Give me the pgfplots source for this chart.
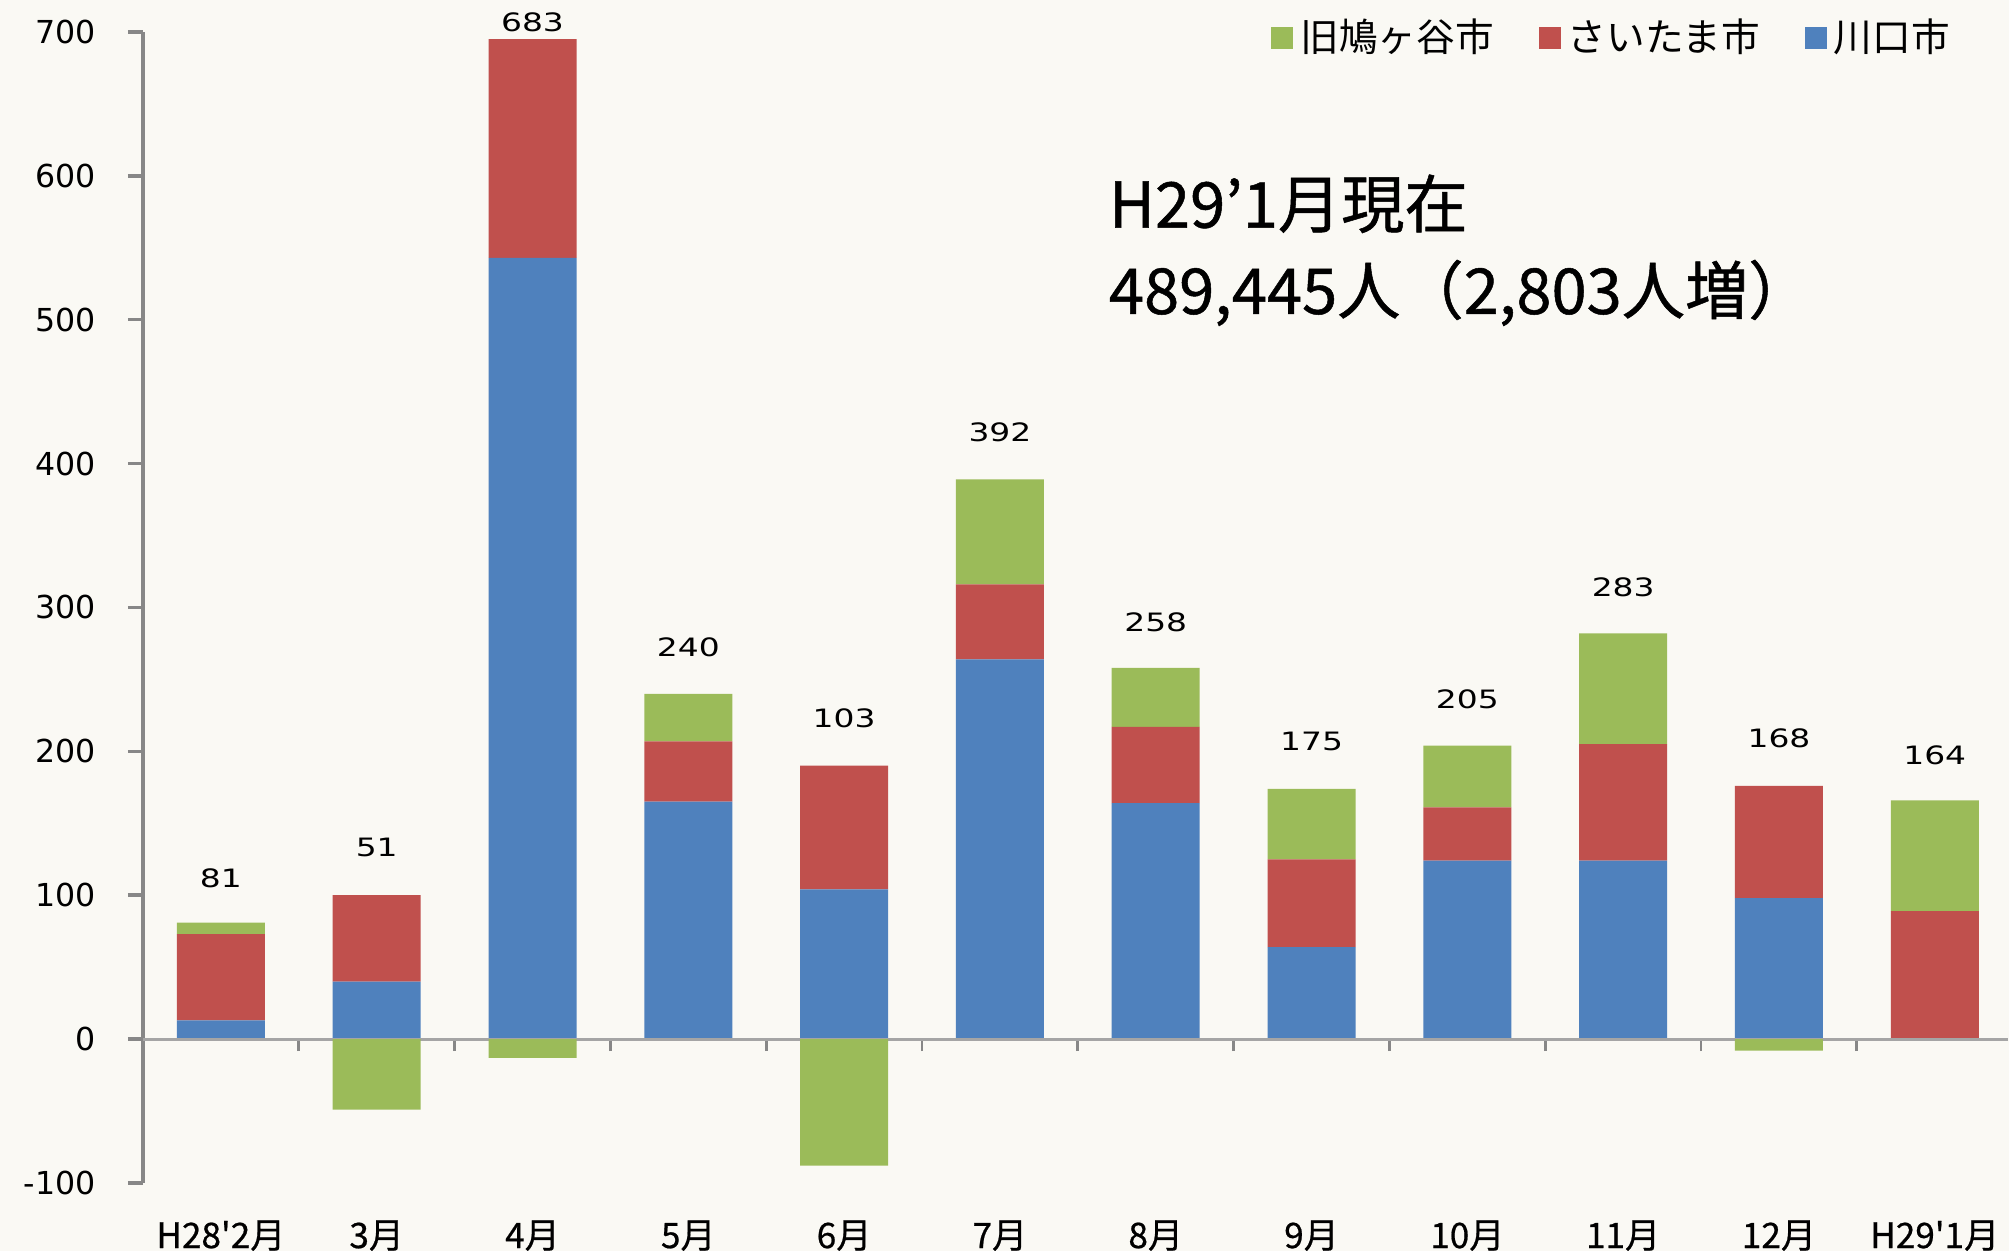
\documentclass[border=0pt]{standalone}
\usepackage{fontspec}
\usepackage{pgfplots}
\pgfplotsset{compat=1.18}
\setmainfont{DejaVu Sans}
\newfontfamily\jp{Noto Sans CJK JP}
\newfontfamily\jpb[FakeBold=0.6]{Noto Sans CJK JP}
\newfontfamily\jpa[FakeBold=0.8]{Noto Sans CJK JP}
\newfontfamily\barfont[FakeStretch=1.3]{DejaVu Sans}
\definecolor{cgreen}{HTML}{9BBB59}
\definecolor{cred}{HTML}{C0504D}
\definecolor{cblue}{HTML}{4F81BD}
\definecolor{bg}{RGB}{250,249,244}
\definecolor{axgray}{RGB}{135,135,135}
\pgfplotsset{common/.style={
  at={(0,0)}, anchor=south west, scale only axis,
  width=18.65cm, height=11.51cm,
  xmin=-0.5, xmax=11.47, ymin=-100, ymax=700, clip=false,
}}
\begin{document}
\begin{tikzpicture}
\fill[bg] (-1.43,-0.68) rectangle (18.66,11.83);
\path[use as bounding box] (-1.43,-0.68) rectangle (18.66,11.83);
\begin{axis}[common, ybar stacked, bar width=0.88cm,
  axis y line*=left, axis x line*=bottom,
  x axis line style={draw=none},
  y axis line style={draw=axgray, line width=1.2pt},
  ytick={-100,0,100,200,300,400,500,600,700},
  ytick style={draw=axgray, line width=1pt},
  tick align=outside, major tick length=0.15cm,
  xtick={0,...,11},
  xticklabels={H28'2月,3月,4月,5月,6月,7月,8月,9月,10月,11月,12月,H29'1月},
  xtick style={draw=none},
  xticklabel style={font=\jpb\fontsize{10}{12}\selectfont, yshift=-0.1cm},
  yticklabel style={font=\fontsize{9}{11}\selectfont, xshift=-0.2cm},
  /pgf/number format/assume math mode=true,
  legend columns=3, reverse legend,
  legend style={draw=none, fill=none, at={(0.599,1.024)}, anchor=north west,
    font=\jp\fontsize{11}{13}\selectfont,
    /tikz/every even column/.append style={column sep=0.38cm}},
  legend image code/.code={\fill[#1] (0cm,-0.11cm) rectangle (0.22cm,0.11cm);},
]
\addplot[fill=cblue, draw=none] coordinates {(0,13) (1,40) (2,543) (3,165) (4,104) (5,264) (6,164) (7,64) (8,124) (9,124) (10,98) (11,0)};
\addlegendentry{川口市}
\addplot[fill=cred, draw=none] coordinates {(0,60) (1,60) (2,152) (3,42) (4,86) (5,52) (6,53) (7,61) (8,37) (9,81) (10,78) (11,89)};
\addlegendentry{さいたま市}
\addplot[fill=cgreen, draw=none] coordinates {(0,8) (1,0) (2,0) (3,33) (4,0) (5,73) (6,41) (7,49) (8,43) (9,77) (10,0) (11,77)};
\addlegendentry{旧鳩ヶ谷市}
\end{axis}
\begin{axis}[common, ybar, bar width=0.88cm, bar shift=0pt,
  axis y line=none, axis x line=middle,
  x axis line style={draw=axgray!75, line width=0.8pt, -},
  xtick={0.5,1.5,...,10.5}, xticklabels=\empty,
  major tick length=0.12cm, tick align=outside,
  xtick style={draw=axgray, line width=0.8pt},
]
\addplot[fill=cgreen, draw=none] coordinates {(1,-49) (2,-13) (4,-88) (10,-8)};
\begin{scope}[every node/.style={font=\barfont\fontsize{7.2}{8}\selectfont}]
\node at (axis cs:0,112) {81};
\node at (axis cs:1,133) {51};
\node at (axis cs:2,707) {683};
\node at (axis cs:3,272) {240};
\node at (axis cs:4,223) {103};
\node at (axis cs:5,422) {392};
\node at (axis cs:6,290) {258};
\node at (axis cs:7,207) {175};
\node at (axis cs:8,236) {205};
\node at (axis cs:9,314) {283};
\node at (axis cs:10,209) {168};
\node at (axis cs:11,197) {164};
\end{scope}
\node[anchor=base west, font=\jpa\fontsize{18}{22}\selectfont] at (axis cs:5.62,564) {H29’1月現在};
\node[anchor=base west, font=\jpa\fontsize{18}{22}\selectfont] at (axis cs:5.62,504) {489,445人（2,803人増）};
\end{axis}
\end{tikzpicture}
\end{document}
